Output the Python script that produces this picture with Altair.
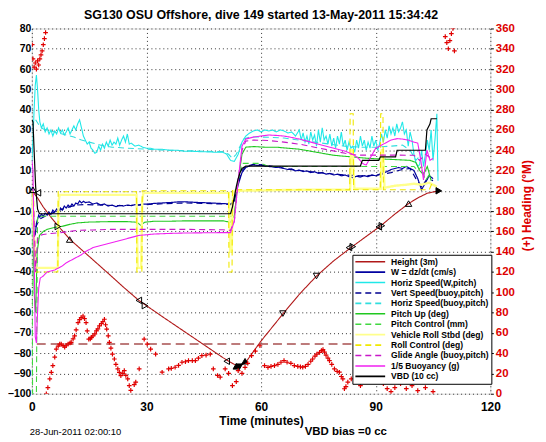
import altair as alt
import pandas as pd

TITLE = "SG130 OSU Offshore, dive 149 started 13-May-2011 15:34:42"
FONT = "Liberation Sans"

series_names = ["Height (3m)", "W = dz/dt (cm/s)", "Horiz Speed(W,pitch)", "Vert Speed(buoy,pitch)",
                "Horiz Speed(buoy,pitch)", "Pitch Up (deg)", "Pitch Control (mm)", "Vehicle Roll Stbd (deg)",
                "Roll Control (deg)", "Glide Angle (buoy,pitch)", "1/5 Buoyancy (g)", "VBD (10 cc)"]
series_colors = ["#b01818", "#0000a0", "#20e8e8", "#000090", "#30dede", "#20c820", "#40d840",
                 "#ffff8c", "#f0e800", "#c818c8", "#f020f0", "#000000"]
series_dashes = [[1, 0], [1, 0], [1, 0], [6, 4], [6, 4], [1, 0], [6, 4], [1, 0], [6, 4], [6, 4], [1, 0], [1, 0]]
series_widths = [1.1, 1.2, 1.1, 1.2, 1.1, 1.1, 1.1, 2.4, 1.1, 1.1, 1.1, 1.2]

height_t = [0, 0.5, 1.5, 3, 5, 7, 10, 13, 16, 20, 24, 28, 30, 34, 38, 42, 46, 50, 52, 54, 55.8, 57.5, 60, 63, 66,
            70, 74.5, 79, 83.5, 87.5, 91.2, 95, 98.6, 101, 103.5, 106.5]
height_v = [0, -1, -3.5, -8, -13, -17.6, -24, -29, -34, -40.7, -47.5, -54, -56.6, -61.8, -66.9, -72, -77.1, -82.2,
            -84.5, -86.5, -85, -80.5, -74, -67, -60, -51, -42, -34.5, -28, -22.5, -17.4, -11.5, -6.3, -3.5, -1.2, 0]

w_t = [0, 0.3, 0.6, 0.9, 1.2, 1.5, 1.8, 2.1, 2.5, 3, 3.5, 4, 4.5, 5, 5.5, 6, 6.5, 7, 7.5, 8, 8.5, 9, 9.5, 10,
       10.5, 11, 11.5, 12, 12.5, 13, 13.5, 14, 15, 16, 17, 18, 19, 20, 21, 22, 23, 24, 25, 26, 27, 28, 29, 30,
       32, 34, 36, 38, 40, 42, 44, 46, 48, 50, 51, 52, 53, 54, 55, 56, 57, 58, 59, 60, 61, 62, 63, 64, 65, 66,
       67, 68, 69, 70, 71, 72, 73, 74, 75, 76, 77, 78, 79, 80, 81, 82, 83, 84, 85, 86, 87, 88, 89, 90, 91, 92,
       93, 94, 95, 96, 97, 98, 99, 100, 101, 102, 103, 104, 105]
w_v = [2, -5, -18, -22, -16, -14, -12, -13, -11.5, -12.5, -11, -12, -10.5, -11.5, -9.5, -10.5, -9, -10, -8.5,
       -9.5, -7.5, -8.5, -7, -8, -6.5, -7.5, -6, -6.5, -5, -6, -5.2, -5.8, -5.5, -6.5, -6, -7, -6.5, -7.5, -7,
       -7.8, -7.2, -7.5, -7, -7.3, -6.8, -7, -6.5, -6.6, -6.2, -6, -5.8, -5.5, -5.4, -5.6, -5.8, -5.9, -6.1,
       -6.3, -6.4, -6.6, -5, 3, 9, 11.5, 12.3, 12.8, 12.5, 12.6, 12.2, 12, 11.8, 11.5, 11.8, 11, 10.5, 10.8,
       9.8, 10.2, 9.5, 9.8, 9, 9.4, 8.6, 9, 8.2, 8.6, 7.8, 8.2, 7.4, 7.8, 7, 6.5, 7.2, 6.8, 7.5, 7, 7.8, 7.4,
       8.2, 8.8, 9.5, 10.5, 11, 11.5, 11, 12, 11, 10, 6, 0.5, 4, 7.5, 6]

vs_t = [1, 2, 4, 6, 8, 10, 12, 14, 18, 22, 26, 30, 35, 40, 45, 50, 52, 53, 54, 55, 56, 58, 60, 63, 66, 70, 74,
        78, 82, 86, 90, 94, 97, 99, 100.5, 102, 103.5, 105]
vs_v = [-18, -14, -12, -10.5, -9, -7.8, -7, -6.8, -7, -7.3, -7.2, -6.8, -6.3, -6, -6.2, -6.5, -6.8, -4, 4, 10,
        12, 13, 12.8, 12, 11, 10, 9.2, 8.4, 7.8, 7.4, 7.6, 9, 10.5, 11, 6, 2, 6, 5]

hs_t = [0, 0.3, 0.6, 0.9, 1.2, 1.5, 1.8, 2.1, 2.5, 3, 3.5, 4, 4.5, 5, 5.5, 6, 6.5, 7, 7.5, 8, 8.5, 9, 9.5, 10,
        10.5, 11, 11.5, 12, 12.5, 13, 13.5, 14, 14.5, 15, 15.5, 16, 16.5, 17, 17.5, 18, 18.5, 19, 19.5, 20,
        20.5, 21, 21.5, 22, 22.5, 23, 23.5, 24, 24.5, 25, 25.5, 26, 27, 28, 29, 30, 31, 32, 34, 36, 38, 40, 42,
        44, 46, 48, 50, 51, 52, 53, 54, 55, 56, 57, 58, 59, 60, 61, 62, 63, 64, 65, 66, 67, 68, 69, 70, 70.5,
        71, 71.5, 72, 72.5, 73, 73.5, 74, 74.5, 75, 75.5, 76, 76.5, 77, 77.5, 78, 78.5, 79, 79.5, 80, 80.5, 81,
        81.5, 82, 82.5, 83, 83.5, 84, 84.5, 85, 85.5, 86, 86.5, 87, 87.5, 88, 88.5, 89, 89.5, 90, 90.5, 91,
        91.5, 92, 92.5, 93, 93.5, 94, 94.5, 95, 95.5, 96, 96.5, 97, 97.5, 98, 98.5, 99, 99.5, 100, 100.5, 101,
        101.5, 102, 102.5, 103, 103.5, 104, 104.5, 105, 105.5, 106, 106.3]
hs_v = [14, 25, 40, 52, 57, 50, 40, 34, 31, 33, 29, 31, 28, 30, 27, 29.5, 28, 31, 28.5, 30, 27.5, 29, 31, 28,
        30, 32, 30, 33, 35, 31, 27, 25, 23, 24, 21, 20, 18.5, 19, 22, 20, 23, 21, 24, 22, 25, 22.5, 24, 23, 26,
        22.5, 25, 27, 24, 28, 23, 23.5, 22, 22.5, 21.5, 21, 21, 20.5, 20.5, 20, 20, 19.5, 19.5, 19.3, 19.2, 19,
        19, 18, 15, 14.5, 18, 24, 27, 28.5, 29.5, 30, 29, 30, 29.5, 30, 29, 30, 29.5, 28.5, 29, 27, 30, 25,
        28.5, 24, 27, 23, 29, 25, 27.5, 22, 30, 24, 31, 25, 27, 23, 28, 22, 26, 21, 27, 23, 29, 22, 25, 20, 24,
        21, 22, 19, 25, 21, 27, 22, 25, 20, 24, 21, 27, 22, 25, 20, 23, 28, 24, 30, 26, 32, 28, 31, 27, 33, 29,
        31, 34, 28, 30, 22, 29, 25, 18, 14, 12, 13, 20, 12, 18, 25, 20, 30, 15, 25, 38, 5]

hb_t = [1, 2, 3, 5, 7, 9, 11, 13, 15, 18, 21, 25, 30, 35, 40, 45, 50, 51.5, 52.5, 53.5, 54.5, 55.5, 57, 60, 63,
        66, 70, 74, 78, 82, 86, 90, 94, 97, 99, 100.5, 102]
hb_v = [35, 32, 30.5, 29.5, 28.5, 27.5, 26.5, 25, 24, 22.5, 21.5, 21, 20.5, 20, 19.8, 19.5, 19.3, 18, 16, 18,
        22, 25.5, 26.5, 26.5, 26.3, 26, 25, 24, 23, 22, 21.5, 21.5, 22, 22.5, 20, 15, 18]

pu_t = [0, 0.3, 0.6, 1.0, 1.4, 2, 3, 4, 6, 8, 10, 12, 15, 20, 25, 27.5, 28.5, 29.5, 32, 36, 40, 45, 50, 52, 53,
        54, 55, 56, 58, 61, 64, 67, 70, 73, 76, 79, 82, 85, 88, 91, 94, 97, 99, 100.5, 101.5, 102.5, 103.5, 104.5]
pu_v = [0, -10, -50, -60, -30, -22, -20, -19, -18, -17.5, -16.5, -15.8, -15.4, -15.2, -15.2, -15.5, -17, -15.5,
        -15, -15, -14.8, -14.8, -14.8, -15.5, -12, 5, 18, 21.5, 21.8, 21.5, 21.5, 21, 20.5, 19.5, 18.5, 17.5,
        17, 16.5, 16, 15.7, 15.5, 15.2, 15, 14, 10, 8, 12, 5]

pc_t = [0, 0.2, 0.5, 1.2, 1.5, 52, 53, 54, 55, 60, 62, 100, 101, 102, 103, 104]
pc_v = [0, -100, -100, -100, -12.5, -12.5, -12.5, 5, 13.5, 13.5, 12, 12, 10, 12, 5, 8]

vr_t = [0, 0.5, 1, 1.5, 6.8, 7.0, 7.3, 27.4, 27.7, 28.6, 28.9, 29.2, 51.6, 51.9, 52.3, 52.6, 53, 70, 83.3, 83.6,
        84.0, 84.4, 91.3, 91.6, 91.9, 92.3, 95, 98, 100, 102, 104, 106]
vr_v = [0, -20, -38, -38, -38, -5, -2, -2, -38, -38, -5, -1, -1, -30, -30, -3, 0, 0.5, 0.5, 20, 20, 1, 1, 20, 20,
        1.5, 2.5, 3, 3.5, 3, 4, 2]

rc_t = [0, 0.5, 1, 6.8, 6.9, 27.4, 27.5, 28.8, 28.9, 51.5, 51.6, 52.4, 52.5, 83.2, 83.3, 84.1, 84.2, 91.2, 91.3,
        91.9, 92.0, 104, 105]
rc_v = [0, -5, -40, -40, -0.5, -0.5, -40, -40, 0, 0, -40, -40, 0.5, 0.5, 38, 38, 0.5, 0.5, 38, 38, 0.5, 0.5, 5]

ga_t = [0.5, 1, 1.5, 2, 3, 5, 8, 12, 16, 20, 25, 30, 40, 50, 52, 53, 54, 55, 56, 58, 62, 66, 70, 74, 78, 82, 85,
        90, 95, 100, 101.5, 103, 104.5]
ga_v = [-10, -40, -24, -22, -21.5, -21, -20.5, -19.5, -19.3, -19, -19, -19, -19, -19.2, -19.5, -15, 5, 20, 24.5,
        25, 24.8, 24, 23, 21.5, 20, 18.5, 17.6, 17.6, 17.6, 17.5, 15, 18, 16]

by_t = [0, 0.3, 0.6, 0.9, 1.2, 1.5, 1.8, 2.2, 3, 4, 5, 6, 7, 8, 9, 10, 11, 12, 13, 14, 15, 16, 18, 20, 22, 25,
        28, 32, 36, 40, 45, 50, 52, 53, 54, 55, 56, 58, 60, 62, 64, 66, 68, 70, 72, 74, 76, 78, 80, 82, 84, 85.5,
        86.5, 87.5, 88.5, 90, 92, 94, 95.6, 97, 98.5, 100, 101, 101.8, 102.5, 103.4, 104.2, 105]
by_v = [15, 10, -30, -72, -75, -60, -48, -43, -42, -40, -39.5, -39, -38, -37, -35.5, -34.5, -33.5, -32.5, -31.5,
        -30, -29, -28, -27, -26, -25, -23.5, -22, -21.3, -21, -20.8, -20.7, -20.6, -20.6, -15, 5, 22, 25.5, 26.5,
        27, 27.5, 27.3, 27, 26.3, 25.5, 24.5, 23.5, 22.5, 21.5, 20.5, 19.5, 18, 16, 13.5, 12.7, 16, 21, 23, 25,
        25.7, 25.5, 25, 24, 23.5, 15, 5.4, 20, 15, 16]

vbd_t = [0, 0.3, 0.6, 1.0, 1.5, 2, 52, 52.5, 53, 53.5, 54, 54.5, 55, 56, 86, 86.5, 90.8, 91.2, 95.2, 95.6, 103,
         103.4, 104.2, 104.5, 106]
vbd_v = [35, 34, 20, 2, -9, -11.3, -11.3, -8, -3, 2, 6, 9, 11, 12.2, 12.2, 15, 15, 16.7, 16.7, 20, 20, 30, 33,
         35.5, 35.5]

# triangle markers along the height trace
tri_t = [0.3, 1.6, 6.8, 9.9, 28, 29.6, 51, 53.5, 54.3, 55.8, 65.7, 74.5, 83, 84, 90.8, 91.6, 98.6, 106.5]
tri_v = [0.5, -1, -17.6, -24, -54, -56.6, -84, -86.5, -86.7, -84, -60.5, -42, -28, -27.5, -17.8, -17.2, -6.3, 0]
tri_shape = ["triangle-up", "triangle-left", "triangle-right", "triangle-up", "triangle-left", "triangle-right",
             "triangle-left", "triangle-up", "triangle-down", "triangle-up", "triangle-down", "triangle-down",
             "triangle-left", "triangle-right", "triangle-left", "triangle-right", "triangle-up", "triangle-right"]
tri_fill = ["transparent", "transparent", "transparent", "transparent", "transparent", "transparent",
            "transparent", "black", "black", "black", "transparent", "transparent", "transparent",
            "transparent", "transparent", "transparent", "transparent", "black"]

# heading (+) points, right axis
head_t = [0.1, 0.3, 0.6, 0.9, 1.2, 1.5, 1.8, 2.1, 2.4, 2.7, 3.0, 3.3, 3.6, 3.8, 4.2, 4.7, 5.1, 5.5, 6.0, 6.4,
          6.9, 7.3, 7.7, 8.2, 8.6, 9.0, 9.5, 10.0, 10.3, 10.8, 11.2, 11.6, 12.1, 12.5, 12.9, 13.4, 13.8, 14.2,
          14.5, 14.9, 15.3, 15.6, 16.0, 16.5, 16.9, 17.3, 17.7, 18.2, 18.6, 19.0, 19.3, 19.6, 20.0, 20.3, 20.7,
          21.1, 21.6, 22.0, 22.5, 22.9, 23.3, 23.8, 24.2, 24.6, 25.1, 25.5, 25.9, 26.8, 27.2, 28.1, 29.4, 30.2,
          31.1, 32.4, 34.1, 35.8, 36.5, 37.5, 38.4, 39.3, 40.2, 41.0, 42.0, 42.8, 43.6, 44.5, 45.6, 46.7, 47.5,
          48.6, 49.3, 50.6, 51.5, 52.5, 53.5, 54.0, 55.0, 55.8, 56.5, 57.5, 58.5, 59.7, 60.9, 61.8, 62.6, 63.5,
          64.4, 65.2, 66.0, 66.8, 67.8, 68.7, 69.6, 70.3, 70.9, 71.6, 72.3, 73.0, 73.5, 74.1, 74.6, 75.3, 75.8,
          76.2, 76.6, 77.0, 77.5, 77.9, 78.5, 79.2, 79.9, 80.5, 81.0, 81.4, 81.8, 82.2, 82.7, 83.6, 86, 87.5, 89,
          90, 91, 92, 93, 94, 95, 96.5, 98, 99.5, 101, 103, 105, 108.2, 108.6, 109.0, 109.4, 109.8, 110.2, 110.6]
head_h = [344, 330, 322, 326, 320, 328, 324, 330, 334, 338, 344, 350, 356, 0, 6, 14.7, 21, 27.7, 36, 44, 47, 49,
          48.9, 47.5, 46, 47.3, 49, 50, 50.6, 54, 57, 63, 70, 73, 75, 76.6, 74, 70, 62, 53.8, 54, 55.5, 57, 59,
          62, 64, 66.8, 69, 71, 73.4, 68, 63.6, 57, 50.6, 45, 39, 34.2, 29, 24.5, 21, 17.9, 20, 22.8, 18, 14.7,
          8, 3.3, 9, 11.4, 24.5, 53.8, 48.9, 44, 39.1, 21.2, 24.5, 25, 26.1, 28, 31, 31.5, 32.6, 32.6, 32.6, 35,
          37.5, 38, 39.1, 24.5, 18, 16.3, 24.5, 20, 8, 12, 22.8, 20, 26, 30, 37.5, 42, 47.3, 27.7, 26, 27, 27.7,
          29, 31, 32.6, 31, 30, 27.7, 27, 26.5, 26.1, 27, 29, 32, 34.2, 37, 39, 40.8, 42.5, 43.4, 41, 38, 35,
          32.6, 29, 24.5, 22, 21.2, 17, 14.7, 4.9, 7, 11.4, 14.7, 8, 12, 18, 22, 15, 10, 5, 2, 6, 10, 5, 8, 3, 6,
          2, 352, 346, 340, 348, 355, 360, 338]
target_heading = [49]

bottom_left_text = ["28-Jun-2011 02:00:10"]
bottom_mid_text = ["VBD bias =0 cc"]

all_t = [height_t, w_t, hs_t, vs_t, hb_t, pu_t, pc_t, vr_t, rc_t, ga_t, by_t, vbd_t]
all_v = [height_v, w_v, hs_v, vs_v, hb_v, pu_v, pc_v, vr_v, rc_v, ga_v, by_v, vbd_v]

X = alt.X("t:Q", scale=alt.Scale(domain=[0, 120], nice=False),
          axis=alt.Axis(values=[0, 30, 60, 90, 120], title="Time (minutes)", labelFont=FONT, labelFontSize=12,
                        labelFontWeight="bold", labelColor="black", titleFont=FONT, titleFontSize=12,
                        titleFontWeight="bold", titleColor="black", grid=True, gridDash=[1, 3],
                        gridColor="#333333", ticks=False, domain=False, labelPadding=8, titlePadding=3,
                        labelFlush=False))
YL = alt.Y("v:Q", scale=alt.Scale(domain=[-100, 80], nice=False),
           axis=alt.Axis(values=list(range(-100, 81, 10)), title=None, labelFont=FONT, labelFontSize=10.5,
                         labelFontWeight="bold", labelColor="black", grid=True, gridDash=[1, 3],
                         gridColor="#333333", ticks=False, domain=False, labelPadding=1))

legend = alt.Legend(title=None, orient="none", legendX=323, legendY=228, symbolType="M-1,0L6.5,0",
                    symbolSize=64, symbolStrokeWidth=1.6, labelFont=FONT, labelFontSize=8.6,
                    labelFontWeight="bold", labelColor="black", strokeColor="black", fillColor="white",
                    padding=2, rowPadding=0.5, labelOffset=27, symbolLimit=0, labelLimit=200)
color_scale = alt.Scale(domain=series_names, range=series_colors)
dash_scale = alt.Scale(domain=series_names, range=series_dashes)

layers = []
for k, name in enumerate(series_names):
    d = pd.DataFrame({"t": all_t[k], "v": all_v[k], "i": list(range(len(all_t[k]))), "series": name})
    layers.append(
        alt.Chart(d).mark_line(clip=True, strokeWidth=series_widths[k]).encode(
            x=X, y=YL,
            color=alt.Color("series:N", scale=color_scale, legend=legend),
            strokeDash=alt.StrokeDash("series:N", scale=dash_scale, legend=legend),
            order=alt.Order("i:Q"),
        )
    )

tri_df = pd.DataFrame({"t": tri_t, "v": tri_v, "shape": tri_shape, "fill": tri_fill})
tri = alt.Chart(tri_df).mark_point(filled=True, size=42, stroke="black", strokeWidth=1, opacity=1).encode(
    x=X, y=YL, shape=alt.Shape("shape:N", scale=None), fill=alt.Fill("fill:N", scale=None))

txt1 = alt.Chart(pd.DataFrame({"s": bottom_left_text})).mark_text(
    font=FONT, fontSize=9.5, color="black", align="left", baseline="middle").encode(
    text="s:N", x=alt.value(-2), y=alt.value(407))
txt2 = alt.Chart(pd.DataFrame({"s": bottom_mid_text})).mark_text(
    font=FONT, fontSize=11.5, fontWeight="bold", color="black", align="left", baseline="middle").encode(
    text="s:N", x=alt.value(275), y=alt.value(407))

left = alt.layer(*layers, tri, txt1, txt2)

YR = alt.Y("h:Q", scale=alt.Scale(domain=[0, 360], nice=False),
           axis=alt.Axis(orient="right", values=list(range(0, 361, 20)), title="(+) Heading (°M)",
                         labelFont=FONT, labelFontSize=11.5, labelFontWeight="bold", labelColor="#dd0000",
                         titleFont=FONT, titleFontSize=12, titleFontWeight="bold", titleColor="#dd0000",
                         titleAngle=270, titleX=36, titleY=178, titleAlign="center", titleBaseline="middle",
                         grid=False, tickSize=3, tickColor="black", domain=False, labelPadding=2))
head = alt.Chart(pd.DataFrame({"t": head_t, "h": head_h})).mark_point(
    shape="M-1,0L1,0M0,-1L0,1", size=22, filled=False, color="#e00000", strokeWidth=1.2, clip=True,
    opacity=1).encode(x=X, y=YR)
rule = alt.Chart(pd.DataFrame({"h": target_heading})).mark_rule(
    color="#a85050", strokeDash=[9, 5], strokeWidth=1.5).encode(y=YR)
right = alt.layer(rule, head)

chart = alt.layer(left, right).resolve_scale(y="independent").properties(
    width=462, height=368,
    title=alt.Title(TITLE, font=FONT, fontSize=12.5, fontWeight="bold", color="black", offset=1),
    autosize=alt.AutoSizeParams(type="none"),
    padding={"left": 24, "top": 19, "right": 48, "bottom": 46},
).configure_view(stroke="black", strokeWidth=1).configure(background="white")

chart.save("out.html", embed_options={"renderer": "svg", "actions": False})
